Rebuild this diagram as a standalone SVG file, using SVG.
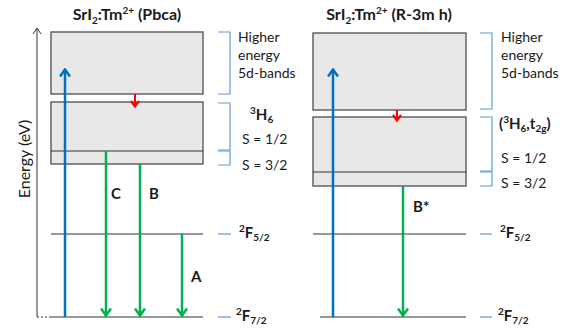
<svg xmlns="http://www.w3.org/2000/svg" width="579" height="335" viewBox="0 0 579 335">
<defs>
<style>
text{font-family:Lato,"Open Sans","Liberation Sans",sans-serif;fill:#1a1a1a}
.t{font-size:16px;font-weight:bold}
.l{font-size:14px}
.b{font-size:14px;font-weight:bold}
.sub{font-size:10px}
.box{fill:#e8e8e8;stroke:#4d4d4d;stroke-width:1.3}
.lvl{stroke:#333;stroke-width:1.2;fill:none}
.br{stroke:#5b9bd5;stroke-width:1.2;fill:none}
.blue{stroke:#0070c0;stroke-width:2.5;fill:none}
.green{stroke:#00b050;stroke-width:2.5;fill:none}
.red{stroke:#ff0000;stroke-width:2;fill:none}
</style>
<marker id="ag" viewBox="0 0 10 12" refX="8.5" refY="6" markerWidth="10" markerHeight="12" markerUnits="userSpaceOnUse" orient="auto">
<path d="M1,1 L8,6 L1,11" fill="none" stroke="#00b050" stroke-width="2.5"/>
</marker>
<marker id="ab" viewBox="0 0 10 12" refX="8.5" refY="6" markerWidth="10" markerHeight="12" markerUnits="userSpaceOnUse" orient="auto">
<path d="M1,1 L8,6 L1,11" fill="none" stroke="#0070c0" stroke-width="2.5"/>
</marker>
<marker id="ar" viewBox="0 0 8 10" refX="7" refY="5" markerWidth="8" markerHeight="10" markerUnits="userSpaceOnUse" orient="auto">
<path d="M1,1 L6.5,5 L1,9" fill="none" stroke="#ff0000" stroke-width="2.2"/>
</marker>
</defs>
<rect width="579" height="335" fill="#fff"/>

<g id="axis">
<line x1="37" y1="317" x2="37" y2="29" stroke="#333" stroke-width="1"/>
<path d="M33,34 L37,28 L41,34" fill="none" stroke="#333" stroke-width="1"/>
<line x1="37" y1="317" x2="50" y2="317" stroke="#333" stroke-width="1" stroke-dasharray="2,2"/>
<text transform="translate(30,159) rotate(-90)" text-anchor="middle" style="font-size:16px">Energy (eV)</text>
</g>

<g id="left-panel">
<text class="t" x="127" y="20" text-anchor="middle">SrI<tspan class="sub" dy="4">2</tspan><tspan dy="-4">:Tm</tspan><tspan class="sub" dy="-6">2+</tspan><tspan dy="6"> (Pbca)</tspan></text>
<g id="L-5d"><rect class="box" x="51" y="32" width="152" height="62"/></g>
<g id="L-3H6"><rect class="box" x="51" y="102" width="152" height="62"/><line class="lvl" x1="51" y1="151" x2="203" y2="151"/></g>
<g id="L-F52"><line class="lvl" x1="51" y1="234" x2="203" y2="234"/></g>
<g id="L-F72"><line class="lvl" x1="50" y1="317" x2="203" y2="317"/></g>
<g id="L-brackets">
<path class="br" d="M218,32 H230 V94 H218"/>
<path class="br" d="M218,103 H230 V150 H218"/>
<path class="br" d="M218,151 H230 V165 H218"/>
<line class="br" x1="218" y1="234" x2="231" y2="234"/>
<line class="br" x1="218" y1="317" x2="231" y2="317"/>
</g>
<g id="L-labels">
<text class="l" x="238" y="42">Higher</text>
<text class="l" x="238" y="60">energy</text>
<text class="l" x="238" y="78">5d-bands</text>
<text class="b" x="250" y="120" style="font-size:15px"><tspan class="sub" dy="-6">3</tspan><tspan dy="6">H</tspan><tspan class="sub" dy="3">6</tspan></text>
<text class="l" x="242" y="144">S = 1/2</text>
<text class="l" x="242" y="170">S = 3/2</text>
<text class="b" x="239" y="238" style="font-size:15px"><tspan class="sub" dy="-6">2</tspan><tspan dy="6">F</tspan><tspan class="sub" dy="3">5/2</tspan></text>
<text class="b" x="236" y="321" style="font-size:15px"><tspan class="sub" dy="-6">2</tspan><tspan dy="6">F</tspan><tspan class="sub" dy="3">7/2</tspan></text>
<text class="b" x="111" y="199" style="font-size:15px">C</text>
<text class="b" x="149" y="199" style="font-size:15px">B</text>
<text class="b" x="191" y="282" style="font-size:15px">A</text>
</g>
</g>

<g id="right-panel">
<text class="t" x="389" y="20" text-anchor="middle">SrI<tspan class="sub" dy="4">2</tspan><tspan dy="-4">:Tm</tspan><tspan class="sub" dy="-6">2+</tspan><tspan dy="6"> (R-3m h)</tspan></text>
<g id="R-5d"><rect class="box" x="313" y="33" width="153" height="77"/></g>
<g id="R-3H6"><rect class="box" x="313" y="117" width="153" height="69"/><line class="lvl" x1="313" y1="172" x2="466" y2="172"/></g>
<g id="R-F52"><line class="lvl" x1="313" y1="234" x2="466" y2="234"/></g>
<g id="R-F72"><line class="lvl" x1="320" y1="317" x2="466" y2="317"/></g>
<g id="R-brackets">
<path class="br" d="M480,33 H492 V109 H480"/>
<path class="br" d="M480,117 H492 V171 H480"/>
<path class="br" d="M480,172 H492 V186 H480"/>
<line class="br" x1="480" y1="234" x2="492" y2="234"/>
<line class="br" x1="480" y1="317" x2="492" y2="317"/>
</g>
<g id="R-labels">
<text class="l" x="501" y="42">Higher</text>
<text class="l" x="501" y="60">energy</text>
<text class="l" x="501" y="78">5d-bands</text>
<text class="b" x="499" y="129" style="font-size:15px">(<tspan class="sub" dy="-6">3</tspan><tspan dy="6">H</tspan><tspan class="sub" dy="3">6</tspan><tspan dy="-3">,t</tspan><tspan class="sub" dy="3">2g</tspan><tspan dy="-3">)</tspan></text>
<text class="l" x="501" y="163">S = 1/2</text>
<text class="l" x="501" y="188">S = 3/2</text>
<text class="b" x="500" y="238" style="font-size:15px"><tspan class="sub" dy="-6">2</tspan><tspan dy="6">F</tspan><tspan class="sub" dy="3">5/2</tspan></text>
<text class="b" x="498" y="321" style="font-size:15px"><tspan class="sub" dy="-6">2</tspan><tspan dy="6">F</tspan><tspan class="sub" dy="3">7/2</tspan></text>
<text class="b" x="413" y="212" style="font-size:15px">B*</text>
</g>
</g>

<g id="connectors">
<line class="blue" x1="65" y1="317" x2="65" y2="69" marker-end="url(#ab)"/>
<line class="red" x1="135" y1="94" x2="135" y2="107" marker-end="url(#ar)"/>
<line class="green" x1="106" y1="151" x2="106" y2="316" marker-end="url(#ag)"/>
<line class="green" x1="140" y1="164" x2="140" y2="316" marker-end="url(#ag)"/>
<line class="green" x1="182" y1="234" x2="182" y2="316" marker-end="url(#ag)"/>
<line class="blue" x1="333" y1="317" x2="333" y2="69" marker-end="url(#ab)"/>
<line class="red" x1="397" y1="110" x2="397" y2="121" marker-end="url(#ar)"/>
<line class="green" x1="403" y1="186" x2="403" y2="316" marker-end="url(#ag)"/>
</g>
</svg>
